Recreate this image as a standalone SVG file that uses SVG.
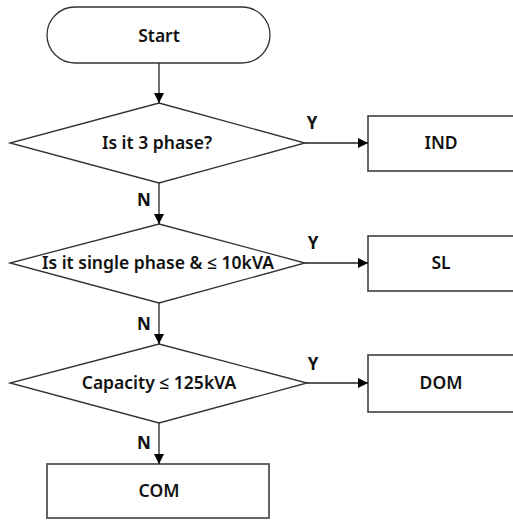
<svg xmlns="http://www.w3.org/2000/svg" width="513" height="520" viewBox="0 0 513 520">
<defs>
<marker id="ah" viewBox="0 0 10 10" refX="10" refY="5" markerWidth="10" markerHeight="10" markerUnits="userSpaceOnUse" orient="auto">
<path d="M0,0 L10,5 L0,10 z" fill="#000"/>
</marker>
<style>
.shape{fill:#fff;stroke:#333;stroke-width:1.3}
.box{fill:#fff;stroke:#555;stroke-width:1.8}
.t{font-family:"Noto Sans","Open Sans","DejaVu Sans",sans-serif;font-size:17.5px;font-weight:600;fill:#111;text-anchor:middle;dominant-baseline:central}
.lab{font-family:"Noto Sans","DejaVu Sans",sans-serif;font-size:17px;font-weight:bold;fill:#111;text-anchor:middle;dominant-baseline:central}
.c{stroke:#222;stroke-width:1.3;fill:none;marker-end:url(#ah)}
</style>
</defs>
<rect width="513" height="520" fill="#fff"/>
<g id="start"><rect class="shape" x="47" y="7" width="223" height="56" rx="28" ry="28"/><text class="t" x="159" y="35">Start</text></g>
<g id="d1"><polygon class="shape" points="159,103 305,143 159,183 10,143"/><text class="t" x="157" y="142">Is it 3 phase?</text></g>
<g id="ind"><rect class="box" x="368" y="116" width="150" height="55"/><text class="t" x="441" y="142">IND</text></g>
<g id="d2"><polygon class="shape" points="159,224 305,263 159,303 10,263"/><text class="t" x="158" y="262">Is it single phase &amp; ≤ 10kVA</text></g>
<g id="sl"><rect class="box" x="368" y="236" width="150" height="55"/><text class="t" x="441" y="262">SL</text></g>
<g id="d3"><polygon class="shape" points="159,344 307,383 159,423 10,383"/><text class="t" x="159" y="382">Capacity ≤ 125kVA</text></g>
<g id="dom"><rect class="box" x="368" y="355" width="150" height="57"/><text class="t" x="441" y="382">DOM</text></g>
<g id="com"><rect class="box" x="47" y="464" width="222" height="54"/><text class="t" x="159" y="490">COM</text></g>
<g id="connectors">
<line class="c" x1="159" y1="63" x2="159" y2="103"/>
<line class="c" x1="305" y1="143" x2="368" y2="143"/>
<line class="c" x1="159" y1="183" x2="159" y2="224"/>
<line class="c" x1="305" y1="263" x2="368" y2="263"/>
<line class="c" x1="159" y1="303" x2="159" y2="344"/>
<line class="c" x1="307" y1="383" x2="368" y2="383"/>
<line class="c" x1="159" y1="423" x2="159" y2="464"/>
<text class="lab" x="312" y="122">Y</text>
<text class="lab" x="313" y="242">Y</text>
<text class="lab" x="313" y="363">Y</text>
<text class="lab" x="144" y="199">N</text>
<text class="lab" x="144" y="323">N</text>
<text class="lab" x="144" y="442">N</text>
</g>
</svg>
